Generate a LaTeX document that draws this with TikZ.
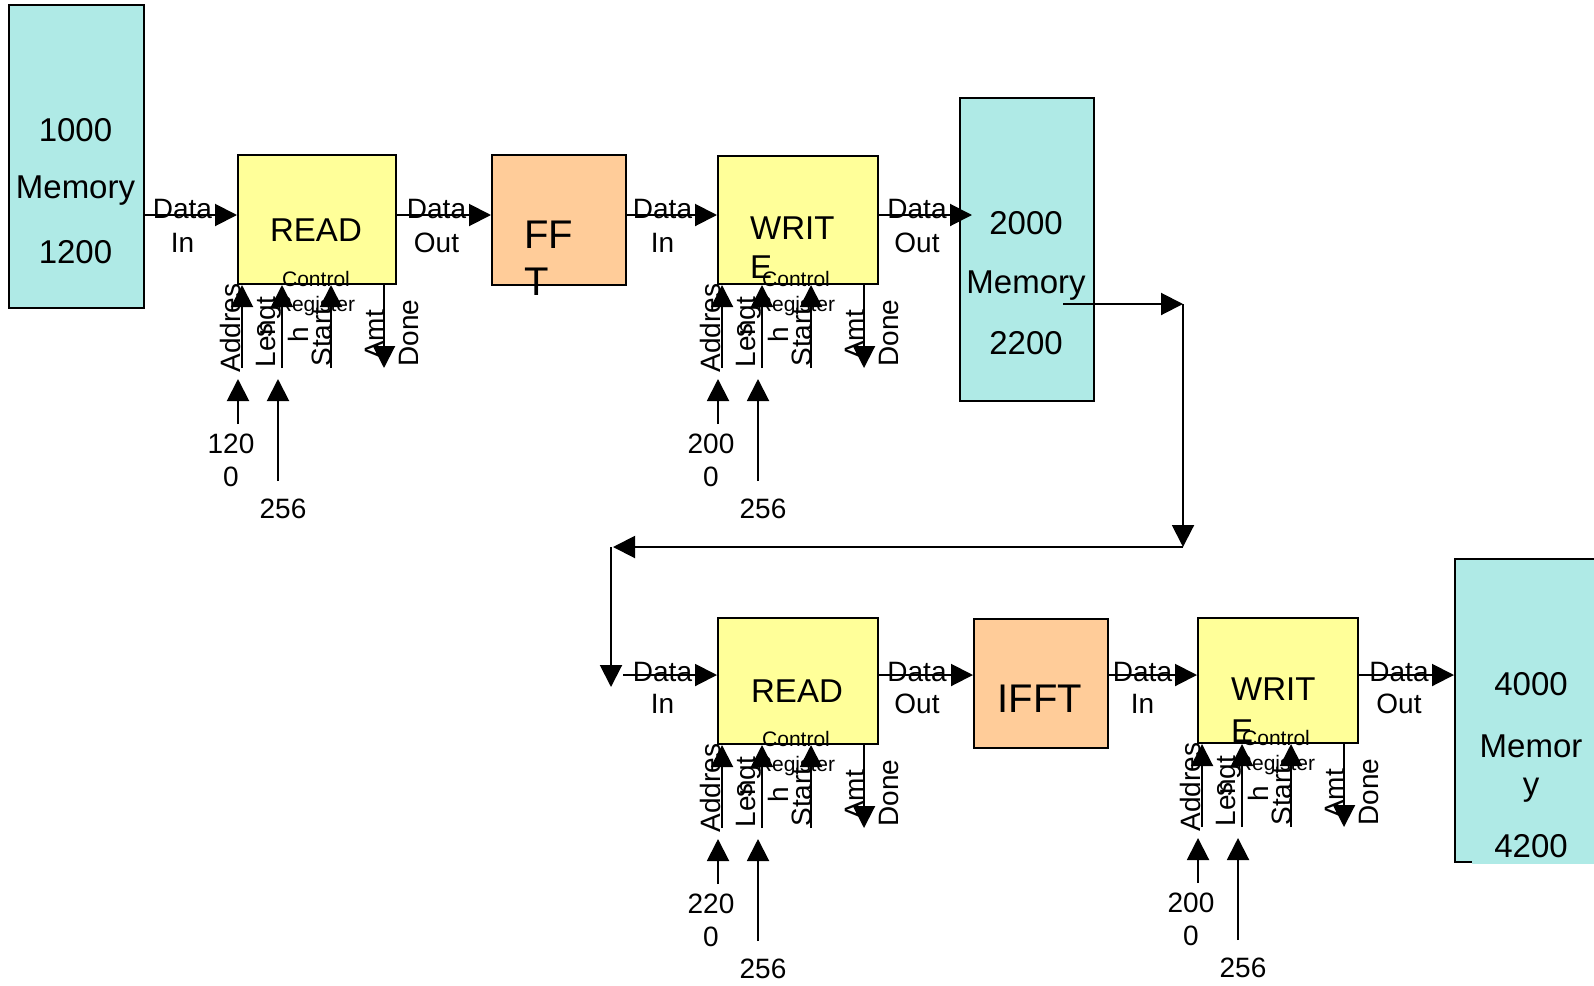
\documentclass[tikz,border=0pt]{standalone}
\usepackage{fontspec}
\setmainfont{Liberation Sans}
\usetikzlibrary{arrows.meta}
\definecolor{memc}{RGB}{175,234,230}
\definecolor{rwc}{RGB}{255,255,153}
\definecolor{fftc}{RGB}{255,204,153}
\tikzset{
 box/.style={draw=black, line width=2pt, inner sep=0pt, anchor=north west},
 mem/.style={box, fill=memc},
 rw/.style={box, fill=rwc},
 fx/.style={box, fill=fftc},
 ar/.style={line width=2pt, -{Triangle[length=22pt,width=22pt]}},
 big/.style={inner sep=0pt, font=\fontsize{33}{39}\selectfont},
 huge/.style={inner sep=0pt, font=\fontsize{40}{47}\selectfont},
 lab/.style={inner sep=0pt, font=\fontsize{28}{32}\selectfont},
 ctl/.style={inner sep=0pt, font=\fontsize{21}{26}\selectfont},
}
% #1 box name, #2 left x, #3 bottom y, #4 #5 address lines
\newcommand\ctrlunit[5]{%
 \coordinate (#1ca) at ({#2+5},{#3+85});
 \coordinate (#1cl) at ({#2+45},{#3+85});
 \coordinate (#1cs) at ({#2+94},{#3+85});
 \coordinate (#1cm) at ({#2+147},{#3+85});
 \node[ctl] (#1t1) at ({#2+79},{#3-4}) {Control};
 \node[ctl] (#1t2) at ({#2+79},{#3+23}) {Register};
 \node[lab,rotate=90] (#1v1) at ({#2-7},{#3+45}) {Addres};
 \node[lab,rotate=90] (#1v2) at ({#2+28},{#3+47}) {s};
 \node[lab,rotate=90] (#1v3) at ({#2+32},{#3+49}) {Lengt};
 \node[lab,rotate=90] (#1v4) at ({#2+61},{#3+52}) {h};
 \node[lab,rotate=90] (#1v5) at ({#2+85},{#3+54}) {Start};
 \node[lab,rotate=90] (#1v6) at ({#2+138},{#3+52}) {Amt};
 \node[lab,rotate=90] (#1v7) at ({#2+172},{#3+50}) {Done};
 \draw[ar] (#1ca) -- (#1ca |- #1.south);
 \draw[ar] (#1cl) -- (#1cl |- #1.south);
 \draw[ar] (#1cs) -- (#1cs |- #1.south);
 \draw[ar] (#1cm |- #1.south) -- (#1cm);
 \coordinate (#1na) at ({#2+1},{#3+141});
 \coordinate (#1nb) at ({#2+1},{#3+96});
 \coordinate (#1la) at ({#2+41},{#3+198});
 \coordinate (#1lb) at ({#2+41},{#3+96});
 \draw[ar] (#1na) -- (#1nb);
 \draw[ar] (#1la) -- (#1lb);
 \node[lab] (#1n1) at ({#2-6},{#3+161}) {#4};
 \node[lab] (#1n2) at ({#2-6},{#3+194}) {#5};
 \node[lab] (#1n3) at ({#2+46},{#3+226}) {256};
}
\begin{document}
\begin{tikzpicture}[x=1pt,y=-1pt]
\useasboundingbox (0,0) rectangle (1594,985);
\clip (0,0) rectangle (1594,985);
% boxes
\node[mem, minimum width=135pt, minimum height=303pt] (m1) at (8,4) {};
\node[rw, minimum width=158pt, minimum height=129pt] (r1) at (237,154) {};
\node[fx, minimum width=134pt, minimum height=130pt] (f1) at (491,154) {};
\node[rw, minimum width=160pt, minimum height=128pt] (w1) at (717,155) {};
\node[mem, minimum width=134pt, minimum height=303pt] (m2) at (959,97) {};
\node[rw, minimum width=160pt, minimum height=126pt] (r2) at (717,617) {};
\node[fx, minimum width=134pt, minimum height=129pt] (i2) at (973,618) {};
\node[rw, minimum width=160pt, minimum height=125pt] (w2) at (1197,617) {};
\node[mem, minimum width=156pt, minimum height=303pt] (m4) at (1454,558) {};
\fill[memc] (1472,851) rectangle (1594,864);
% box texts
\node[big] (m1a) at (75.5,130) {1000};
\node[big] (m1b) at (75.5,191) {Memory};
\node[big] (m1c) at (75.5,252) {1200};
\node[big] (m2a) at (1026,223.5) {2000};
\node[big] (m2b) at (1026,286) {Memory};
\node[big] (m2c) at (1026,343.5) {2200};
\node[big] (m4a) at (1531,684) {4000};
\node[big] (m4b) at (1531,746.5) {Memor};
\node[big] (m4c) at (1531,790.5) {y};
\node[big] (m4d) at (1531,846) {4200};
\node[big] (r1x) at (316,230) {READ};
\node[big] (r2x) at (797,691) {READ};
\node[big,anchor=west] (w1x) at (750,228) {WRIT};
\node[big,anchor=west] (w1y) at (750,267) {E};
\node[big,anchor=west] (w2x) at (1231,689.5) {WRIT};
\node[big,anchor=west] (w2y) at (1231,731) {E};
\node[huge,anchor=west] (f1x) at (524,235) {FF};
\node[huge,anchor=west] (f1y) at (524,282) {T};
\node[huge] (i2x) at (1040,699) {IFFT};
% data path
\coordinate (r1in) at (237,215);
\coordinate (f1in) at (491,215);
\coordinate (w1in) at (717,215);
\coordinate (m2in) at (972,215);
\coordinate (r2in) at (717,675);
\coordinate (i2in) at (973,675);
\coordinate (w2in) at (1197,675);
\coordinate (m4in) at (1454,675);
\draw[ar] (m1.east |- r1in) -- (r1in);
\draw[ar] (r1.east |- f1in) -- (f1in);
\draw[ar] (f1.east |- w1in) -- (w1in);
\draw[ar] (w1.east |- m2in) -- (m2in);
\draw[ar] (623,675) -- (r2in);
\draw[ar] (r2.east |- i2in) -- (i2in);
\draw[ar] (i2.east |- w2in) -- (w2in);
\draw[ar] (w2.east |- m4in) -- (m4in);
\node[lab] (d1a) at (182.5,209) {Data};
\node[lab] (d1b) at (182.5,243) {In};
\node[lab] (d2a) at (436.5,209) {Data};
\node[lab] (d2b) at (436.5,243) {Out};
\node[lab] (d3a) at (662.5,209) {Data};
\node[lab] (d3b) at (662.5,243) {In};
\node[lab] (d4a) at (917,209) {Data};
\node[lab] (d4b) at (917,243) {Out};
\node[lab] (d5a) at (662.5,672) {Data};
\node[lab] (d5b) at (662.5,704) {In};
\node[lab] (d6a) at (917,672) {Data};
\node[lab] (d6b) at (917,704) {Out};
\node[lab] (d7a) at (1142.5,672) {Data};
\node[lab] (d7b) at (1142.5,704) {In};
\node[lab] (d8a) at (1399,672) {Data};
\node[lab] (d8b) at (1399,704) {Out};
% route from memory 2 to second row
\coordinate (c1) at (1063,304);
\coordinate (c2) at (1183,304);
\coordinate (c3) at (1183,547);
\coordinate (c4) at (613,547);
\coordinate (c4b) at (611,547);
\coordinate (c5) at (611,687);
\draw[ar] (c1) -- (c2);
\draw[ar] (c2) -- (c3);
\draw[ar] (c3) -- (c4);
\draw[ar] (c4b) -- (c5);
% control units
\ctrlunit{r1}{237}{283}{120}{0}
\ctrlunit{w1}{717}{283}{200}{0}
\ctrlunit{r2}{717}{743}{220}{0}
\ctrlunit{w2}{1197}{742}{200}{0}
\end{tikzpicture}
\end{document}
